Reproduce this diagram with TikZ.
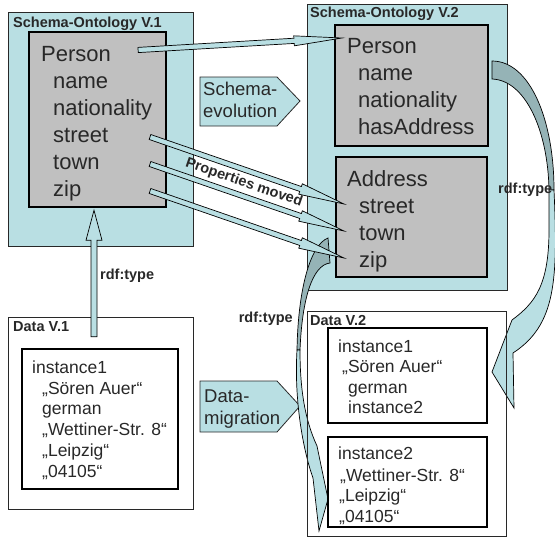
\documentclass[tikz,border=0pt]{standalone}
\usepackage{fontspec}
\setmainfont{Liberation Sans}
\usetikzlibrary{calc}

\definecolor{paleteal}{RGB}{185,223,227}
\definecolor{darkteal}{RGB}{149,179,182}
\definecolor{boxgray}{RGB}{192,192,192}
\definecolor{inkgray}{RGB}{40,40,40}

% block arrow: from, to, shaft half width, head half width, head length
\newcommand{\blockarrow}[5]{%
  \coordinate (ba-head) at ($(#2)!#5!(#1)$);
  \filldraw[arrowbody] ($(#1)!#3!90:(#2)$) -- ($(ba-head)!#3!90:(#2)$) -- ($(ba-head)!#4!90:(#2)$) -- (#2)
    -- ($(ba-head)!#4!-90:(#2)$) -- ($(ba-head)!#3!-90:(#2)$) -- ($(#1)!#3!-90:(#2)$) -- cycle;
}

\begin{document}
\begin{tikzpicture}[x=1pt, y=-1pt,
	every node/.style={text=inkgray, inner sep=0pt},
	ontobox/.style={draw=inkgray, line width=1pt, fill=paleteal},
	classbox/.style={draw=black, line width=2.5pt, fill=boxgray},
	databox/.style={draw=inkgray, line width=1pt},
	instbox/.style={draw=black, line width=2.5pt},
	boxtitle/.style={anchor=base west, font=\fontsize{14.5}{17}\selectfont\bfseries},
	bigtext/.style={anchor=base west, font=\fontsize{22}{27}\selectfont},
	smalltext/.style={anchor=base west, font=\fontsize{17.5}{21}\selectfont},
	steptext/.style={anchor=west, align=left, font=\fontsize{18.5}{22}\selectfont},
	stepshape/.style={draw=inkgray, line width=0.8pt, fill=paleteal},
	arrowbody/.style={draw=black, line width=0.7pt, fill=paleteal},
	curvedark/.style={draw=black, line width=0.7pt, fill=darkteal},
	curvelight/.style={draw=black, line width=0.7pt, fill=paleteal},
	typelabel/.style={font=\fontsize{14.5}{17}\selectfont\bfseries}]
	
	\useasboundingbox (0,0) rectangle (555,547);
	
	% --- Schema boxes ---
	\node[ontobox, minimum width=185pt, minimum height=234pt] (onto1) at (100.5,129) {};
	\node[ontobox, minimum width=200pt, minimum height=286pt] (onto2) at (407,147) {};
	\node[classbox, minimum width=137pt, minimum height=175pt] (cls1) at (97.5,119.5) {};
	\node[classbox, minimum width=153pt, minimum height=121pt] (cls2p) at (411.5,85.5) {};
	\node[classbox, minimum width=151pt, minimum height=120pt] (cls2a) at (411.5,217) {};
	
	% --- Schema V.1 ---
	\node[boxtitle] (onto1title) at (13,27) {Schema-Ontology V.1};
	\node[bigtext] (v1person) at (41,61) {Person};
	\node[bigtext] (v1name) at (53,88) {name};
	\node[bigtext] (v1nationality) at (53,115) {nationality};
	\node[bigtext] (v1street) at (53,142) {street};
	\node[bigtext] (v1town) at (53,169) {town};
	\node[bigtext] (v1zip) at (53,196) {zip};
	
	% --- Schema V.2 ---
	\node[boxtitle] (onto2title) at (310,17) {Schema-Ontology V.2};
	\node[bigtext] (v2person) at (347,53) {Person};
	\node[bigtext] (v2name) at (358,80) {name};
	\node[bigtext] (v2nationality) at (358,107) {nationality};
	\node[bigtext] (v2hasaddress) at (358,134) {hasAddress};
	\node[bigtext] (v2address) at (347,186) {Address};
	\node[bigtext] (v2street) at (359,213) {street};
	\node[bigtext] (v2town) at (359,240) {town};
	\node[bigtext] (v2zip) at (359,267) {zip};
	
	% --- Steps between the versions ---
	\draw[stepshape] (200,77) -- (277,77) -- (300,101) -- (277,126) -- (200,126) -- cycle;
	\node[steptext] (evol) at (203,100) {Schema-\\evolution};
	\draw[stepshape] (200,381) -- (277,381) -- (300,406) -- (277,432) -- (200,432) -- cycle;
	\node[steptext] (migr) at (204,409) {Data-\\migration};
	
	% --- Curved rdf:type arrows ---
	\filldraw[curvedark] (492,61) .. controls (530,61) and (554,120) .. (554,190)
		-- (549,190) .. controls (548,130) and (525,80) .. (492,79) -- cycle;
	\filldraw[curvelight] (554,190) .. controls (558,280) and (556,325) .. (513,353)
		-- (514,408) -- (492,372) -- (512,320) .. controls (535,303) and (549,285) .. (549,230) -- (549,190) -- cycle;
	
	\filldraw[curvedark] (328,238) .. controls (310,245) and (298,290) .. (297,350)
		-- (300,350) .. controls (302,300) and (312,265) .. (330,263) -- cycle;
	\filldraw[curvelight] (297,350) .. controls (294,400) and (303,450) .. (313,478)
		-- (319,531) -- (328,499) -- (317,446) .. controls (305,420) and (300,390) .. (300,350) -- cycle;
	
	% --- Data boxes ---
	\node[databox, minimum width=185pt, minimum height=192pt] (data1) at (100.5,413) {};
	\node[instbox, minimum width=156pt, minimum height=140pt] (inst1) at (100,419) {};
	\node[databox, minimum width=199pt, minimum height=225pt] (data2) at (406.5,423.5) {};
	\node[instbox, minimum width=159pt, minimum height=95pt] (inst2a) at (407.5,375.5) {};
	\node[instbox, minimum width=159pt, minimum height=90pt] (inst2b) at (407.5,482) {};
	
	% --- Data V.1 ---
	\node[boxtitle] (data1title) at (13,331) {Data V.1};
	\node[smalltext] (d1inst) at (32,373) {instance1};
	\node[smalltext] (d1name) at (42,394) {„Sören Auer“};
	\node[smalltext] (d1nat) at (42,414) {german};
	\node[smalltext] (d1street) at (42,435) {„Wettiner-Str. 8“};
	\node[smalltext] (d1town) at (42,456) {„Leipzig“};
	\node[smalltext] (d1zip) at (42,477) {„04105“};
	
	% --- Data V.2 ---
	\node[boxtitle] (data2title) at (310,325) {Data V.2};
	\node[smalltext] (d2inst) at (338,352) {instance1};
	\node[smalltext] (d2name) at (342,372) {„Sören Auer“};
	\node[smalltext] (d2nat) at (348,393) {german};
	\node[smalltext] (d2addr) at (348,413) {instance2};
	\node[smalltext] (d2inst2) at (338,459) {instance2};
	\node[smalltext] (d2street) at (340,481) {„Wettiner-Str. 8“};
	\node[smalltext] (d2town) at (339,501) {„Leipzig“};
	\node[smalltext] (d2zip) at (339,522) {„04105“};
	
	% --- Straight block arrows ---
	\coordinate (pa-from) at ($(v1person.base east)+(27,-11)$);
	\coordinate (pa-to) at ($(v2person.base west)+(-5,-15)$);
	\blockarrow{pa-from}{pa-to}{2.6pt}{5pt}{48pt}
	
	\coordinate (tailx) at (150,0);
	\coordinate (tipx) at (344,0);
	\foreach \p in {street,town,zip}{
		\coordinate (\p-from) at ($(v1\p.base -| tailx)+(0,-5)$);
		\coordinate (\p-to) at ($(v2\p.base -| tipx)+(0,-9)$);
		\blockarrow{\p-from}{\p-to}{2.6pt}{5.5pt}{46pt}
	}
	
	\coordinate (up-from) at ($(inst1.north)+(-6,-11)$);
	\coordinate (up-to) at ($(cls1.south)+(-3.5,2)$);
	\blockarrow{up-from}{up-to}{3pt}{8pt}{30pt}
	
	% --- Labels ---
	\node[typelabel, rotate=-19] (moved) at (244,183) {Properties moved};
	\node[typelabel, anchor=base west] (type1) at (100,279) {rdf:type};
	\node[typelabel, anchor=base east] (type2) at (293,322) {rdf:type};
	\node[typelabel, anchor=base west] (type3) at (498,193) {rdf:type};
	
\end{tikzpicture}
\end{document}
